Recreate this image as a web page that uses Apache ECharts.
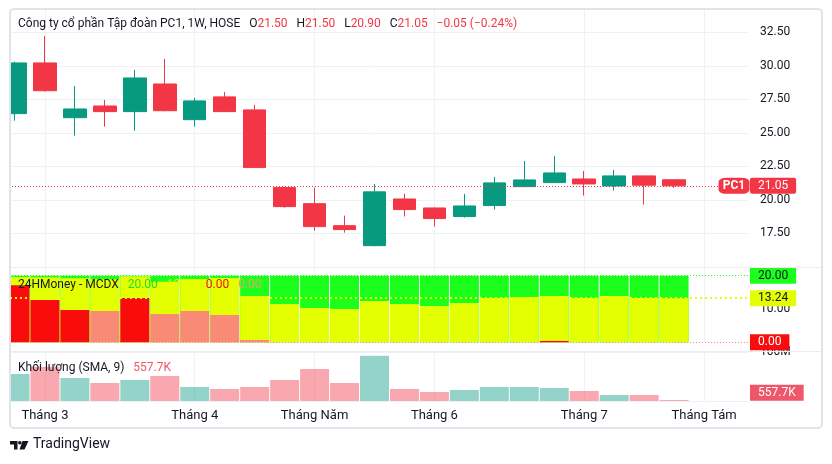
<!DOCTYPE html>
<html>
<head>
<meta charset="utf-8">
<script src="https://cdn.jsdelivr.net/npm/echarts@6/dist/echarts.min.js"></script>
<style>
  html, body { margin: 0; padding: 0; background: #fff; }
  #main { width: 832px; height: 464px; }
</style>
</head>
<body>
<div id="main"></div>
<script>
// weekly bars (Monday of each week), last two weeks are empty space on the right
var weeks = ['2025-02-24', '2025-03-03', '2025-03-10', '2025-03-17', '2025-03-24', '2025-03-31',
    '2025-04-07', '2025-04-14', '2025-04-21', '2025-04-28', '2025-05-05', '2025-05-12',
    '2025-05-19', '2025-05-26', '2025-06-02', '2025-06-09', '2025-06-16', '2025-06-23',
    '2025-06-30', '2025-07-07', '2025-07-14', '2025-07-21', '2025-07-28', '2025-08-04', '2025-08-11'];
var monthNames = {3: 'Tháng 3', 4: 'Tháng 4', 5: 'Tháng Năm', 6: 'Tháng 6', 7: 'Tháng 7', 8: 'Tháng Tám'};

var opens  = [26.43, 30.21, 26.13, 27.00, 26.58, 28.64, 25.98, 27.68, 26.71, 20.92, 19.72, 18.08,
              16.59, 20.07, 19.40, 18.76, 19.58, 20.99, 21.29, 21.56, 21.04, 21.79, 21.50];
var closes = [30.21, 28.14, 26.78, 26.58, 29.09, 26.65, 27.38, 26.58, 22.41, 19.50, 18.01, 17.79,
              20.60, 19.28, 18.61, 19.55, 21.27, 21.49, 22.01, 21.19, 21.79, 21.10, 21.05];
var lows   = [25.91, 28.07, 24.79, 25.46, 25.16, 26.60, 25.46, 26.55, 22.40, 19.43, 17.71, 17.56,
              16.55, 18.76, 18.01, 18.68, 19.28, 20.95, 21.27, 20.32, 20.69, 19.65, 20.90];
var highs  = [30.30, 32.22, 28.49, 27.45, 29.69, 30.51, 27.60, 28.05, 27.08, 20.95, 20.92, 18.83,
              21.19, 20.45, 19.45, 20.45, 21.71, 22.91, 23.28, 22.16, 22.24, 21.80, 21.50];

// volume in millions of shares
var volumes = [55.1, 70.0, 46.9, 36.7, 42.9, 51.0, 28.6, 24.5, 28.6, 42.9, 65.3, 36.7,
               92.4, 24.5, 18.4, 22.4, 28.6, 28.6, 26.5, 20.4, 12.2, 12.2, 0.5577];

// 24HMoney MCDX columns (overlapping, each measured from 0)
var retail   = [20, 20, 20, 20, 20, 20, 20, 20, 20, 20, 20, 20, 20, 20, 20, 20, 20, 20, 20, 20, 20, 20, 20];
var hotMoney = [19.6, 19.5, 19.2, 18.9, 19.8, 18.2, 19.0, 19.3, 13.9, 11.5, 10.3, 10.0,
                12.4, 11.5, 10.9, 11.8, 13.3, 13.6, 13.9, 13.3, 13.9, 13.3, 13.24];
var bankerStrong = [17.1, 12.7, 9.7, 0, 13.3, 0, 0, 0, 0, 0, 0, 0, 0, 0, 0, 0, 0, 0, 0.4, 0, 0, 0, 0];
var bankerWeak   = [0, 0, 0, 9.4, 0, 8.5, 9.4, 8.2, 0.7, 0, 0, 0, 0, 0, 0, 0, 0, 0, 0, 0, 0, 0, 0];

var UP = '#089981', DOWN = '#f23645';
var GREEN = '#1cff1c', YELLOW = '#e4ff02', RED = '#f80c0c', SALMON = '#f98a76';
var GRID_LINE = '#eef1f6', TEXT = '#131722';
var FONT = 'Roboto, "Noto Sans", sans-serif';

var last = closes.length - 1;
var candles = opens.map(function (o, i) { return [o, closes[i], lows[i], highs[i]]; });
var chg = closes[last] - closes[last - 1];
var pct = chg / closes[last - 1] * 100;
function signed(v) { return (v < 0 ? '\u2212' : '+') + Math.abs(v).toFixed(2); }
function fmtVol(m) { return m >= 1 ? m.toFixed(1) + 'M' : (m * 1000).toFixed(1) + 'K'; }

function monthOf(i) { return +weeks[i].slice(5, 7); }
function isMonthStart(i) { return i > 0 && monthOf(i) !== monthOf(i - 1); }

function xAxisFor(gridIndex, withLabels) {
    return {
        type: 'category',
        gridIndex: gridIndex,
        data: weeks,
        boundaryGap: true,
        axisLine: {show: false},
        axisTick: {show: false},
        axisLabel: withLabels ? {
            interval: function (i) { return isMonthStart(i); },
            formatter: function (v) { return monthNames[+v.slice(5, 7)]; },
            color: TEXT, fontSize: 13, margin: 8, fontFamily: FONT
        } : {show: false},
        splitLine: {
            show: true,
            alignWithLabel: true,
            interval: function (i) { return isMonthStart(i); },
            lineStyle: {color: GRID_LINE, width: 1}
        }
    };
}

function rich(color) {
    return {color: color, fontSize: 12, fontWeight: 'normal', fontFamily: FONT};
}

var chart = echarts.init(document.getElementById('main'));

var option = {
    animation: false,
    backgroundColor: '#fff',
    textStyle: {fontFamily: FONT},
    title: [{
        left: 18, top: 15, padding: 0,
        text: '{t|Công ty cổ phần Tập đoàn PC1, 1W, HOSE}  {t|O}{v|' + opens[last].toFixed(2) + '}  {t|H}{v|' +
            highs[last].toFixed(2) + '}  {t|L}{v|' + lows[last].toFixed(2) + '}  {t|C}{v|' + closes[last].toFixed(2) +
            '}  {v|' + signed(chg) + ' (' + signed(pct) + '%)}',
        textStyle: {fontWeight: 'normal', rich: {t: rich(TEXT), v: rich(DOWN)}}
    }, {
        left: 18, top: 276, padding: 0,
        text: '{t|24HMoney - MCDX}  {g|' + retail[last].toFixed(2) + '}  {y|' + hotMoney[last].toFixed(2) +
            '}  {r|' + bankerStrong[last].toFixed(2) + '}  {s|' + bankerWeak[last].toFixed(2) + '}',
        textStyle: {
            fontWeight: 'normal',
            rich: {t: rich(TEXT), g: rich('#22e01f'), y: rich(YELLOW), r: rich('#e8160f'), s: rich('#e9a36a')}
        }
    }, {
        left: 18, top: 359, padding: 0,
        text: '{t|Khối lượng (SMA, 9)}  {v|' + fmtVol(volumes[last]) + '}',
        textStyle: {fontWeight: 'normal', rich: {t: rich(TEXT), v: rich('#f25563')}}
    }],
    grid: [
        {left: -1, width: 750, top: 9, height: 258},
        {left: -1, width: 750, top: 268, height: 74.3},
        {left: -1, width: 750, top: 351, height: 50}
    ],
    xAxis: [xAxisFor(0, false), xAxisFor(1, false), xAxisFor(2, true)],
    yAxis: [{
        gridIndex: 0, type: 'value', position: 'right',
        min: 15, max: 34.23, interval: 2.5,
        axisLine: {show: false}, axisTick: {show: false},
        axisLabel: {
            color: TEXT, fontSize: 12, margin: 11, showMinLabel: false, showMaxLabel: false,
            formatter: function (v) { return v.toFixed(2); }
        },
        splitLine: {lineStyle: {color: GRID_LINE}}
    }, {
        gridIndex: 1, type: 'value', position: 'right',
        min: 0, max: 22.3, interval: 10,
        axisLine: {show: false}, axisTick: {show: false},
        axisLabel: {
            color: TEXT, fontSize: 12, margin: 11, showMaxLabel: false,
            formatter: function (v) { return v.toFixed(2); }
        },
        splitLine: {show: false}
    }, {
        gridIndex: 2, type: 'value', position: 'right',
        min: 0, max: 102, interval: 100,
        axisLine: {show: false}, axisTick: {show: false},
        axisLabel: {
            color: TEXT, fontSize: 12, margin: 11, showMinLabel: false, showMaxLabel: false,
            formatter: function (v) { return v + 'M'; }
        },
        splitLine: {lineStyle: {color: GRID_LINE}}
    }],
    series: [{
        name: 'PC1',
        type: 'candlestick',
        xAxisIndex: 0, yAxisIndex: 0,
        barWidth: 23,
        data: candles,
        itemStyle: {color: UP, color0: DOWN, borderColor: UP, borderColor0: DOWN, borderWidth: 1},
        markLine: {
            silent: true,
            symbol: ['none', 'none'],
            lineStyle: {color: DOWN, type: [1, 2], width: 1},
            label: {
                position: 'end', distance: 1,
                formatter: closes[last].toFixed(2),
                color: '#fff', backgroundColor: DOWN, fontSize: 12,
                padding: [2, 8, 2, 8], borderRadius: 2
            },
            data: [{yAxis: closes[last]}]
        },
        markPoint: {
            silent: true,
            symbol: 'roundRect',
            symbolSize: [31, 16],
            itemStyle: {color: DOWN},
            label: {color: '#fff', fontSize: 12, fontWeight: 'bold', formatter: 'PC1'},
            data: [{coord: [weeks[weeks.length - 1], closes[last]]}]
        }
    }, {
        name: 'Retail', type: 'bar', xAxisIndex: 1, yAxisIndex: 1,
        barWidth: 29, barGap: '-100%', itemStyle: {color: GREEN}, data: retail
    }, {
        name: 'Hot money', type: 'bar', xAxisIndex: 1, yAxisIndex: 1,
        barWidth: 29, barGap: '-100%', itemStyle: {color: YELLOW}, data: hotMoney
    }, {
        name: 'Banker weak', type: 'bar', xAxisIndex: 1, yAxisIndex: 1,
        barWidth: 29, barGap: '-100%', itemStyle: {color: SALMON}, data: bankerWeak
    }, {
        name: 'Banker', type: 'bar', xAxisIndex: 1, yAxisIndex: 1,
        barWidth: 29, barGap: '-100%', itemStyle: {color: RED}, data: bankerStrong,
        markLine: {
            silent: true, z: 10,
            symbol: ['none', 'none'],
            label: {position: 'end', distance: 1, fontSize: 12, padding: [2, 8, 2, 8]},
            data: [{
                yAxis: retail[last],
                lineStyle: {color: GREEN, type: [1, 2], width: 1},
                label: {formatter: retail[last].toFixed(2), color: TEXT, backgroundColor: GREEN}
            }, {
                yAxis: hotMoney[last],
                lineStyle: {color: YELLOW, type: [2, 3], width: 2},
                label: {formatter: hotMoney[last].toFixed(2), color: TEXT, backgroundColor: YELLOW}
            }, {
                yAxis: bankerStrong[last],
                lineStyle: {color: '#f58a8a', type: [1, 2], width: 1},
                label: {formatter: bankerStrong[last].toFixed(2), color: '#fff', backgroundColor: RED, padding: [2, 8, 2, 8]}
            }]
        }
    }, {
        name: 'Khối lượng', type: 'bar', xAxisIndex: 2, yAxisIndex: 2,
        barWidth: 29, barMinHeight: 1,
        data: volumes,
        itemStyle: {
            color: function (p) {
                return closes[p.dataIndex] >= opens[p.dataIndex] ? 'rgba(8,153,129,0.43)' : 'rgba(242,54,69,0.43)';
            }
        },
        markLine: {
            silent: true,
            symbol: ['none', 'none'],
            lineStyle: {color: 'rgba(0,0,0,0)', width: 0},
            label: {
                position: 'end', distance: 1, offset: [0, -8],
                formatter: fmtVol(volumes[last]),
                color: '#fff', backgroundColor: '#f0566a', fontSize: 12,
                padding: [2, 8, 2, 8]
            },
            data: [{yAxis: volumes[last]}]
        }
    }],
    graphic: [
        {type: 'rect', z: 100, shape: {x: 0, y: 0, width: 10, height: 464}, style: {fill: '#fff'}},
        {type: 'line', z: 100, shape: {x1: 10, y1: 267.5, x2: 822, y2: 267.5}, style: {stroke: '#e9ecf2', lineWidth: 1}},
        {type: 'line', z: 100, shape: {x1: 10, y1: 351.5, x2: 822, y2: 351.5}, style: {stroke: '#e9ecf2', lineWidth: 1}},
        {type: 'rect', z: 101, shape: {x: 10, y: 9, width: 812, height: 419, r: 4},
            style: {fill: 'none', stroke: '#e0e3eb', lineWidth: 2}},
        // TradingView logo
        {type: 'polygon', z: 101, shape: {points: [[10, 441], [17.5, 441], [17.5, 449.5], [14, 449.5], [14, 444.5], [10, 444.5]]},
            style: {fill: TEXT}},
        {type: 'circle', z: 101, shape: {cx: 19.8, cy: 442.8, r: 1.8}, style: {fill: TEXT}},
        {type: 'polygon', z: 101, shape: {points: [[22.5, 441], [28.5, 441], [24.5, 449.5], [19.5, 449.5]]},
            style: {fill: TEXT}},
        {type: 'text', z: 101, left: 33, top: 437,
            style: {text: 'TradingView', fill: TEXT, fontSize: 14, fontFamily: FONT}}
    ]
};

chart.setOption(option);
</script>
</body>
</html>
